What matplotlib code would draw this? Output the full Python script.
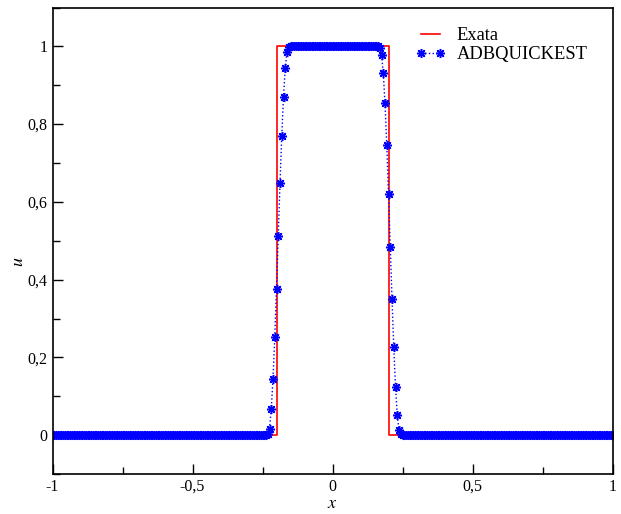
import numpy as np
import matplotlib
matplotlib.use('Agg')
import matplotlib.pyplot as plt
from matplotlib.ticker import MultipleLocator, FuncFormatter

plt.rcParams['font.family'] = ['Liberation Serif', 'DejaVu Serif']
plt.rcParams['mathtext.fontset'] = 'stix'

# Exact solution (square pulse)
x_exact = [-1.0, -0.2, -0.2, 0.2, 0.2, 1.0]
u_exact = [0.0, 0.0, 1.0, 1.0, 0.0, 0.0]

# Numerical solution on a 320-cell mesh
x_num = np.linspace(-1.0, 1.0, 321)
u_low = 0.0
u_high = 1.0
plateau = (-0.15, 0.1625)
x_rise = [-0.23125, -0.225, -0.21875, -0.2125, -0.20625, -0.2, -0.19375,
          -0.1875, -0.18125, -0.175, -0.16875, -0.1625, -0.15625]
u_rise = [0.003, 0.017, 0.066, 0.145, 0.252, 0.377, 0.512,
          0.648, 0.770, 0.871, 0.944, 0.986, 0.998]
x_fall = [0.16875, 0.175, 0.18125, 0.1875, 0.19375, 0.2, 0.20625,
          0.2125, 0.21875, 0.225, 0.23125, 0.2375, 0.24375]
u_fall = [0.996, 0.979, 0.932, 0.854, 0.747, 0.621, 0.484,
          0.351, 0.227, 0.125, 0.051, 0.013, 0.002]

u_num = np.full_like(x_num, u_low)
u_num[(x_num >= plateau[0] - 1e-9) & (x_num <= plateau[1] + 1e-9)] = u_high
for xs, us in ((x_rise, u_rise), (x_fall, u_fall)):
    for xv, uv in zip(xs, us):
        u_num[np.argmin(np.abs(x_num - xv))] = uv

fig = plt.figure(figsize=(6.21, 5.14), dpi=100)
ax = fig.add_axes([52.5 / 621, 40 / 514, 560 / 621, 466.5 / 514])

ax.plot(x_exact, u_exact, color='red', lw=1.2, label='Exata')
ax.plot(x_num, u_num, color='blue', ls=':', lw=1.0,
        marker=(8, 2, 0), ms=6.5, mew=1.1, label='ADBQUICKEST')

ax.set_xlim(-1, 1)
ax.set_ylim(-0.1, 1.1)
ax.xaxis.set_major_locator(MultipleLocator(0.5))
ax.xaxis.set_minor_locator(MultipleLocator(0.25))
ax.yaxis.set_major_locator(MultipleLocator(0.2))
ax.yaxis.set_minor_locator(MultipleLocator(0.1))

comma = FuncFormatter(lambda v, p: ('%g' % round(v, 3)).replace('.', ','))
ax.xaxis.set_major_formatter(comma)
ax.yaxis.set_major_formatter(comma)

ax.tick_params(which='both', direction='in', labelsize=11.5, top=False, right=False)
ax.tick_params(which='major', length=7, width=1)
ax.tick_params(which='minor', length=5, width=1)
for s in ax.spines.values():
    s.set_linewidth(1.2)

ax.set_xlabel('$x$', fontsize=13, labelpad=0)
ax.set_ylabel('$u$', fontsize=13)
ax.yaxis.set_label_coords(-0.045, 0.455)

ax.legend(loc='upper right', frameon=False, fontsize=13.3, numpoints=2,
          handlelength=1.6, handletextpad=0.6, labelspacing=0.1,
          borderaxespad=0.3, bbox_to_anchor=(0.978, 0.985))

fig.savefig('out.png', dpi=100)
